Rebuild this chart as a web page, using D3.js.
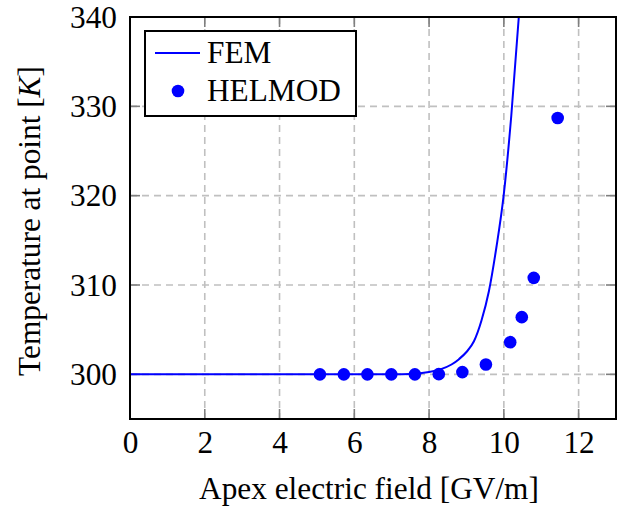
<!DOCTYPE html>
<html>
<head>
<meta charset="utf-8">
<script src="https://cdn.jsdelivr.net/npm/d3@7"></script>
<style>
  body { margin: 0; background: #fff; }
  svg text { font-family: 'Liberation Serif', 'Times New Roman', serif; fill: #000; }
</style>
</head>
<body>
<div id="chart"></div>
<script>
// FEM curve
const femField = [0, 6.0, 7.0, 7.5, 8.0, 8.3, 8.6, 8.8, 9.0, 9.2, 9.4, 9.6, 9.8, 10.0, 10.2, 10.4, 10.5];
const femTemp  = [300, 300, 300.01, 300.04, 300.25, 300.55, 301.1, 301.7, 302.5, 303.7, 306.0, 309.3, 314.2, 320.2, 329.0, 340.0, 346.0];

// HELMOD points
const helField = [5.08, 5.72, 6.35, 6.99, 7.62, 8.26, 8.89, 9.52, 10.17, 10.48, 10.80, 11.44];
const helTemp  = [300.0, 300.0, 300.0, 300.0, 300.0, 300.02, 300.25, 301.1, 303.6, 306.4, 310.8, 328.7];

const xTicks = [0, 2, 4, 6, 8, 10, 12];
const yTicks = [300, 310, 320, 330, 340];

const fontSize = "31.3px";
const fontFamily = "'Liberation Serif', 'Times New Roman', serif";

const width = 625, height = 513;
const margin = { top: 17, right: 9, bottom: 94, left: 130 };
const innerW = width - margin.left - margin.right;
const innerH = height - margin.top - margin.bottom;

const svg = d3.select("#chart").append("svg")
  .attr("width", width)
  .attr("height", height);

const g = svg.append("g")
  .attr("transform", `translate(${margin.left},${margin.top})`);

const x = d3.scaleLinear().domain([0, 13]).range([0, innerW]);
const y = d3.scaleLinear().domain([295, 340]).range([innerH, 0]);

// clip to plot area
svg.append("defs").append("clipPath").attr("id", "clip")
  .append("rect").attr("width", innerW).attr("height", innerH);

// grid
g.append("g").selectAll("line").data(xTicks.slice(1)).join("line")
  .attr("x1", d => x(d)).attr("x2", d => x(d))
  .attr("y1", 0).attr("y2", innerH)
  .attr("stroke", "#c0c0c0").attr("stroke-width", 1.6)
  .attr("stroke-dasharray", "7,5");
g.append("g").selectAll("line").data(yTicks.slice(0, -1)).join("line")
  .attr("x1", 0).attr("x2", innerW)
  .attr("y1", d => y(d)).attr("y2", d => y(d))
  .attr("stroke", "#c0c0c0").attr("stroke-width", 1.6)
  .attr("stroke-dasharray", "7,5");

// inner tick marks on all four sides
const tickLen = 10;
const tickG = g.append("g").attr("stroke", "#7f7f7f").attr("stroke-width", 1.6);
xTicks.forEach(t => {
  tickG.append("line").attr("x1", x(t)).attr("x2", x(t)).attr("y1", innerH).attr("y2", innerH - tickLen);
  tickG.append("line").attr("x1", x(t)).attr("x2", x(t)).attr("y1", 0).attr("y2", tickLen);
});
yTicks.forEach(t => {
  tickG.append("line").attr("x1", 0).attr("x2", tickLen).attr("y1", y(t)).attr("y2", y(t));
  tickG.append("line").attr("x1", innerW).attr("x2", innerW - tickLen).attr("y1", y(t)).attr("y2", y(t));
});

// axes labels via d3 axes, lines hidden
const xAxis = g.append("g")
  .attr("transform", `translate(0,${innerH})`)
  .call(d3.axisBottom(x).tickValues(xTicks).tickSize(0).tickPadding(12));
xAxis.attr("font-family", fontFamily).attr("font-size", fontSize);
xAxis.select(".domain").remove();
xAxis.selectAll("text").style("font-family", fontFamily);

const yAxis = g.append("g")
  .call(d3.axisLeft(y).tickValues(yTicks).tickSize(0).tickPadding(13));
yAxis.attr("font-family", fontFamily).attr("font-size", fontSize);
yAxis.select(".domain").remove();
yAxis.selectAll("text").style("font-family", fontFamily);

// FEM line
const femData = femField.map((f, i) => ({ f, t: femTemp[i] }));
g.append("path")
  .datum(femData)
  .attr("clip-path", "url(#clip)")
  .attr("fill", "none")
  .attr("stroke", "#0000ff")
  .attr("stroke-width", 2)
  .attr("d", d3.line().x(d => x(d.f)).y(d => y(d.t)).curve(d3.curveMonotoneX));

// HELMOD points
const helData = helField.map((f, i) => ({ f, t: helTemp[i] }));
g.append("g").selectAll("circle").data(helData).join("circle")
  .attr("cx", d => x(d.f))
  .attr("cy", d => y(d.t))
  .attr("r", 6.3)
  .attr("fill", "#0000ff");

// frame
g.append("rect")
  .attr("width", innerW).attr("height", innerH)
  .attr("fill", "none").attr("stroke", "#000").attr("stroke-width", 2);

// legend
const legend = svg.append("g");
legend.append("rect")
  .attr("x", 145).attr("y", 31).attr("width", 211).attr("height", 85)
  .attr("fill", "#fff").attr("stroke", "#000").attr("stroke-width", 2);
legend.append("line")
  .attr("x1", 155).attr("x2", 200).attr("y1", 53).attr("y2", 53)
  .attr("stroke", "#0000ff").attr("stroke-width", 2);
legend.append("text").attr("x", 207).attr("y", 63)
  .style("font-size", fontSize).text("FEM");
legend.append("circle").attr("cx", 178).attr("cy", 91).attr("r", 6.3).attr("fill", "#0000ff");
legend.append("text").attr("x", 207).attr("y", 101)
  .style("font-size", fontSize).text("HELMOD");

// axis titles
svg.append("text")
  .attr("text-anchor", "middle")
  .attr("x", 369).attr("y", 499)
  .style("font-size", fontSize)
  .text("Apex electric field [GV/m]");

const yTitle = svg.append("text")
  .attr("text-anchor", "middle")
  .attr("transform", "translate(40,221) rotate(-90)")
  .style("font-size", fontSize);
yTitle.append("tspan").text("Temperature at point [");
yTitle.append("tspan").style("font-style", "italic").text("K");
yTitle.append("tspan").text("]");
</script>
</body>
</html>
